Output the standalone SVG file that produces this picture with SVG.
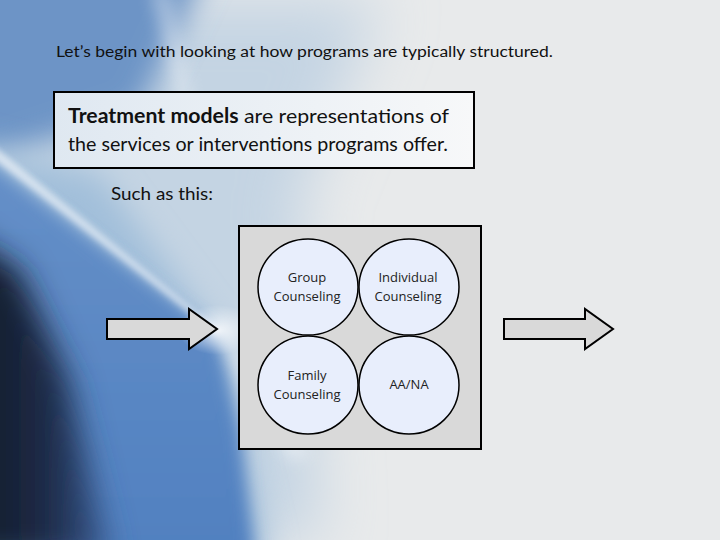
<svg xmlns="http://www.w3.org/2000/svg" width="720" height="540" viewBox="0 0 720 540">
<defs>
<style>
.t{font-family:Lato,"Open Sans","Liberation Sans",sans-serif;fill:#111}
.c{font-family:"Open Sans","DejaVu Sans",sans-serif;font-size:13px;fill:#222;text-anchor:middle}
.node ellipse{fill:#e8eefc;stroke:#000;stroke-width:1.5}
.arrow{fill:#d9d9d9;stroke:#000;stroke-width:2;stroke-linejoin:miter}
</style>
<filter id="b30" x="-50%" y="-50%" width="200%" height="200%"><feGaussianBlur stdDeviation="30"/></filter>
<filter id="b15" x="-50%" y="-50%" width="200%" height="200%"><feGaussianBlur stdDeviation="15"/></filter>
<filter id="b8" x="-50%" y="-50%" width="200%" height="200%"><feGaussianBlur stdDeviation="8"/></filter>
<filter id="b3" x="-50%" y="-50%" width="200%" height="200%"><feGaussianBlur stdDeviation="3"/></filter>
<linearGradient id="blueLow" x1="0" y1="0" x2="0" y2="1">
<stop offset="0" stop-color="#6690c8"/><stop offset="1" stop-color="#5080c0"/>
</linearGradient>
<linearGradient id="navy" x1="0" y1="0" x2="1" y2="0">
<stop offset="0" stop-color="#121723"/><stop offset="0.6" stop-color="#1d2b48"/><stop offset="1" stop-color="#3a5c94"/>
</linearGradient>
<linearGradient id="box" x1="0" y1="0" x2="1" y2="0">
<stop offset="0" stop-color="#dfe8f1"/><stop offset="1" stop-color="#f7f8f9"/>
</linearGradient>
<radialGradient id="glow" cx="0.5" cy="0.5" r="0.5">
<stop offset="0" stop-color="#ffffff" stop-opacity="0.8"/><stop offset="1" stop-color="#ffffff" stop-opacity="0"/>
</radialGradient>
</defs>
<rect width="720" height="540" fill="#e8eaeb"/>
<g id="background">
<polygon points="0,0 380,0 300,200 320,540 0,540" fill="#c4d4e3" filter="url(#b30)"/>
<polygon points="-40,-40 210,-40 140,110 -40,170" fill="#6d94c6" filter="url(#b15)"/>
<polygon points="-40,140 100,175 217,332 270,560 -40,560" fill="#a2bfda" filter="url(#b15)"/>
<polygon points="-40,140 217,334 240,430 255,560 -40,560" fill="url(#blueLow)" filter="url(#b8)"/>
<polygon points="-40,230 20,270 70,380 110,560 -40,560" fill="url(#navy)" filter="url(#b15)"/>
<polygon points="-10,143 -10,156 218,335 218,329" fill="#ffffff" opacity="0.6" filter="url(#b3)"/>
<polygon points="150,-10 170,-10 195,120 185,120" fill="#ffffff" opacity="0.35" filter="url(#b8)"/>
<polygon points="214,330 222,328 310,455 290,460" fill="#ffffff" opacity="0.45" filter="url(#b8)"/>
<ellipse cx="218" cy="330" rx="40" ry="25" fill="url(#glow)"/>
</g>
<text class="t" x="56" y="57" font-size="14.5" textLength="497" lengthAdjust="spacingAndGlyphs">Let’s begin with  looking at how programs are typically structured.</text>
<g id="definition">
<rect x="54" y="92" width="420" height="76" fill="url(#box)" stroke="#000" stroke-width="2"/>
<text class="t" x="68" y="123" font-size="20" textLength="381" lengthAdjust="spacingAndGlyphs"><tspan font-weight="bold">Treatment models</tspan> are representations of</text>
<text class="t" x="68" y="151" font-size="20" textLength="380" lengthAdjust="spacingAndGlyphs">the services or interventions programs offer.</text>
</g>
<text class="t" x="111" y="200" font-size="18" textLength="102" lengthAdjust="spacingAndGlyphs">Such as this:</text>
<g id="connectors">
<polygon id="arrow-in" class="arrow" points="107,319 189,319 189,309 217,329 189,349 189,339 107,339"/>
<polygon id="arrow-out" class="arrow" points="504,319 585,319 585,309 613,329 585,349 585,339 504,339"/>
</g>
<g id="model">
<rect x="239" y="226" width="242" height="223" fill="#d9d9d9" stroke="#000" stroke-width="2"/>
</g>
<g id="group" class="node">
<ellipse cx="308" cy="287" rx="50" ry="48"/>
<text class="c" x="307" y="282">Group</text>
<text class="c" x="307" y="301">Counseling</text>
</g>
<g id="individual" class="node">
<ellipse cx="409" cy="287" rx="50" ry="48"/>
<text class="c" x="408" y="282">Individual</text>
<text class="c" x="408" y="301">Counseling</text>
</g>
<g id="family" class="node">
<ellipse cx="308" cy="385" rx="50" ry="49"/>
<text class="c" x="307" y="380">Family</text>
<text class="c" x="307" y="399">Counseling</text>
</g>
<g id="aana" class="node">
<ellipse cx="409" cy="385" rx="50" ry="49"/>
<text class="c" x="409" y="389">AA/NA</text>
</g>
</svg>
